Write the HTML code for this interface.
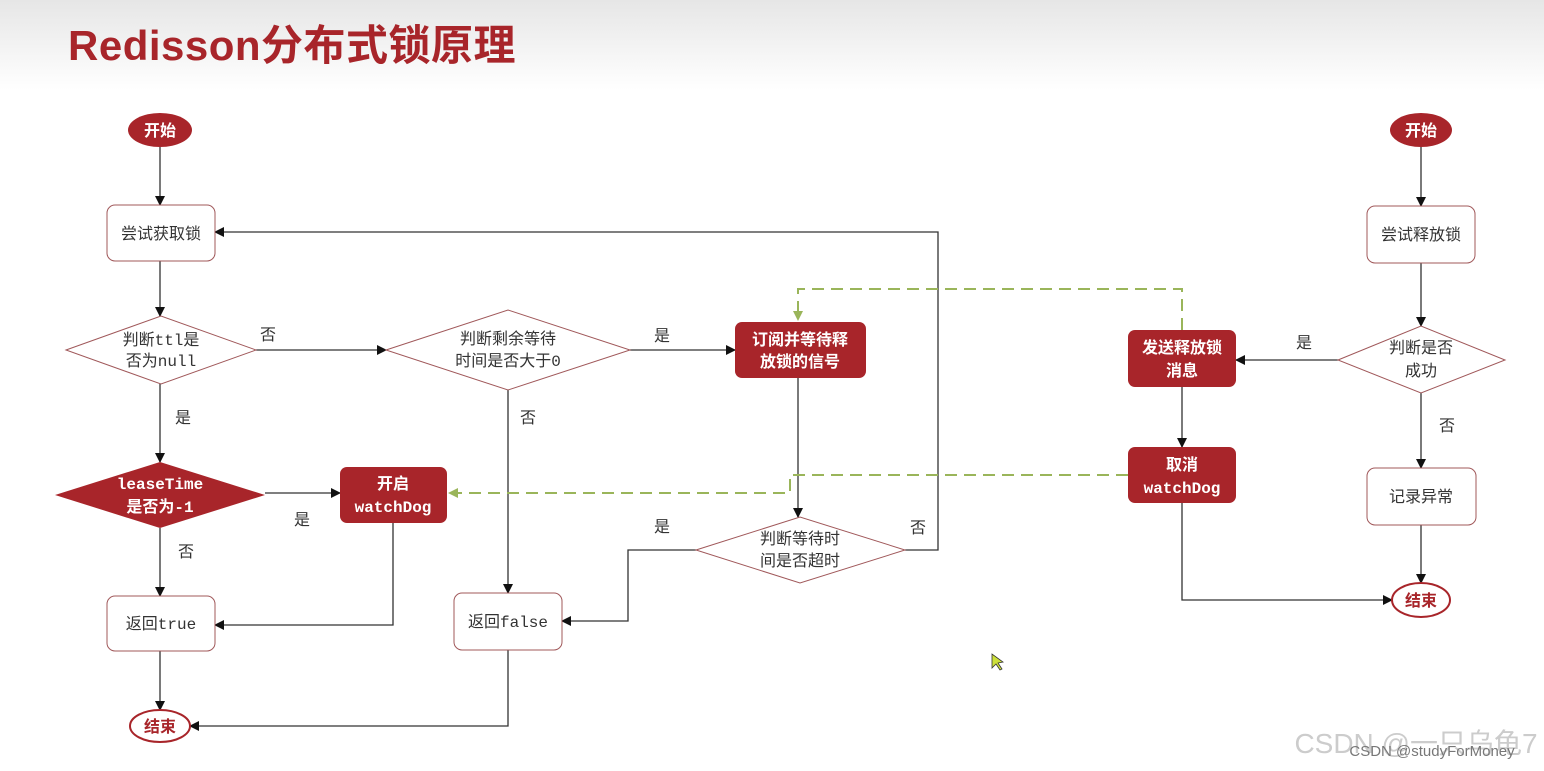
<!DOCTYPE html>
<html><head><meta charset="utf-8"><style>
html,body{margin:0;padding:0;background:#fff;}
body{width:1544px;height:771px;overflow:hidden;position:relative;}
.bg{position:absolute;left:0;top:0;width:1544px;height:90px;background:linear-gradient(#e6e6e6,#fff);}
.title{position:absolute;left:68px;top:12px;font:bold 42px "Liberation Sans","Noto Sans CJK SC",sans-serif;color:#a8252a;letter-spacing:0.5px;}
svg{position:absolute;left:0;top:0;}
text{font-family:"Liberation Mono","Noto Sans CJK SC",monospace;font-size:16px;fill:#333;text-anchor:middle;}
.lbl{font-family:"Liberation Sans","Noto Sans CJK SC",sans-serif;font-size:16px;fill:#333;}
.w{fill:#fff !important;font-weight:bold;}
.r{fill:#a8252a;}
</style></head><body>
<div class="bg"></div>
<div class="title">Redisson分布式锁原理</div>
<svg width="1544" height="771" viewBox="0 0 1544 771">
<defs>
<marker id="a" markerWidth="10" markerHeight="10" refX="9" refY="5" orient="auto" markerUnits="userSpaceOnUse"><path d="M0,0 L10,5 L0,10 z" fill="#111"/></marker>
<marker id="g" markerWidth="10" markerHeight="10" refX="9" refY="5" orient="auto" markerUnits="userSpaceOnUse"><path d="M0,0 L10,5 L0,10 z" fill="#9ab55a"/></marker>
</defs>
<g stroke="#333" stroke-width="1.3" fill="none" marker-end="url(#a)">
<path d="M160,147 V205"/>
<path d="M160,261 V316"/>
<path d="M256,350 H386"/>
<path d="M160,384 V462"/>
<path d="M630,350 H735"/>
<path d="M508,390 V593"/>
<path d="M265,493 H340"/>
<path d="M160,528 V596"/>
<path d="M393,523 V625 H215"/>
<path d="M160,651 V710"/>
<path d="M508,650 V726 H190"/>
<path d="M798,378 V517"/>
<path d="M696,550 H628 V621 H562"/>
<path d="M905,550 H938 V232 H215"/>
<path d="M1421,147 V206"/>
<path d="M1421,263 V326"/>
<path d="M1338,360 H1236"/>
<path d="M1421,393 V468"/>
<path d="M1182,387 V447"/>
<path d="M1182,503 V600 H1392"/>
<path d="M1421,525 V583"/>
</g>
<g stroke="#9ab55a" stroke-width="2" stroke-dasharray="12,7" fill="none" marker-end="url(#g)">
<path d="M1182,330 V289 H798 V320"/>
<path d="M1128,475 H790 V493 H449"/>
</g>
<ellipse cx="160" cy="130" rx="32" ry="17" class="r"/>
<text x="160" y="136" class="lbl w">开始</text>
<rect x="107" y="205" width="108" height="56" rx="8" fill="#fff" stroke="#a0585a"/>
<text x="161" y="239" class="lbl">尝试获取锁</text>
<polygon points="66,350 161,316 256,350 161,384" fill="#fff" stroke="#a0585a"/>
<text x="161" y="345">判断ttl是</text><text x="161" y="366">否为null</text>
<polygon points="386,350 508,310 630,350 508,390" fill="#fff" stroke="#a0585a"/>
<text x="508" y="344">判断剩余等待</text><text x="508" y="366">时间是否大于0</text>
<rect x="735" y="322" width="131" height="56" rx="7" class="r"/>
<text x="800" y="345" class="lbl w">订阅并等待释</text><text x="800" y="367" class="lbl w">放锁的信号</text>
<polygon points="55,495 160,462 265,495 160,528" class="r"/>
<text x="160" y="489" class="w">leaseTime</text><text x="160" y="512" class="w">是否为-1</text>
<rect x="340" y="467" width="107" height="56" rx="7" class="r"/>
<text x="393" y="489" class="w">开启</text><text x="393" y="512" class="w">watchDog</text>
<rect x="107" y="596" width="108" height="55" rx="8" fill="#fff" stroke="#a0585a"/>
<text x="161" y="629">返回true</text>
<ellipse cx="160" cy="726" rx="30" ry="16" fill="#fff" stroke="#a8252a" stroke-width="2"/>
<text x="160" y="732" class="lbl" style="fill:#a8252a;font-weight:bold">结束</text>
<rect x="454" y="593" width="108" height="57" rx="8" fill="#fff" stroke="#a0585a"/>
<text x="508" y="627">返回false</text>
<polygon points="696,550 800,517 905,550 800,583" fill="#fff" stroke="#a0585a"/>
<text x="800" y="544">判断等待时</text><text x="800" y="566">间是否超时</text>
<ellipse cx="1421" cy="130" rx="31" ry="17" class="r"/>
<text x="1421" y="136" class="lbl w">开始</text>
<rect x="1367" y="206" width="108" height="57" rx="8" fill="#fff" stroke="#a0585a"/>
<text x="1421" y="240" class="lbl">尝试释放锁</text>
<polygon points="1338,360 1421,326 1505,360 1421,393" fill="#fff" stroke="#a0585a"/>
<text x="1421" y="353" class="lbl">判断是否</text><text x="1421" y="376" class="lbl">成功</text>
<rect x="1128" y="330" width="108" height="57" rx="7" class="r"/>
<text x="1182" y="353" class="lbl w">发送释放锁</text><text x="1182" y="376" class="lbl w">消息</text>
<rect x="1128" y="447" width="108" height="56" rx="7" class="r"/>
<text x="1182" y="470" class="w">取消</text><text x="1182" y="493" class="w">watchDog</text>
<rect x="1367" y="468" width="109" height="57" rx="8" fill="#fff" stroke="#a0585a"/>
<text x="1421" y="502" class="lbl">记录异常</text>
<ellipse cx="1421" cy="600" rx="29" ry="17" fill="#fff" stroke="#a8252a" stroke-width="2"/>
<text x="1421" y="606" class="lbl" style="fill:#a8252a;font-weight:bold">结束</text>
<text x="268" y="340" class="lbl">否</text>
<text x="183" y="423" class="lbl">是</text>
<text x="662" y="341" class="lbl">是</text>
<text x="528" y="423" class="lbl">否</text>
<text x="302" y="525" class="lbl">是</text>
<text x="186" y="557" class="lbl">否</text>
<text x="662" y="532" class="lbl">是</text>
<text x="918" y="533" class="lbl">否</text>
<text x="1304" y="348" class="lbl">是</text>
<text x="1447" y="431" class="lbl">否</text>
<path d="M992,654 L992,668 L996,664 L1000,670 L1002,669 L998,663 L1003,662 z" fill="#cde03a" stroke="#333" stroke-width="0.8"/>
<text x="1416" y="753" style="font-family:'Liberation Sans','Noto Sans CJK SC',sans-serif;font-size:28px;fill:#ccc">CSDN @一只乌龟7</text>
<text x="1432" y="756" style="font-family:'Liberation Sans',sans-serif;font-size:15px;fill:#777">CSDN @studyForMoney</text>
</svg>
</body></html>
